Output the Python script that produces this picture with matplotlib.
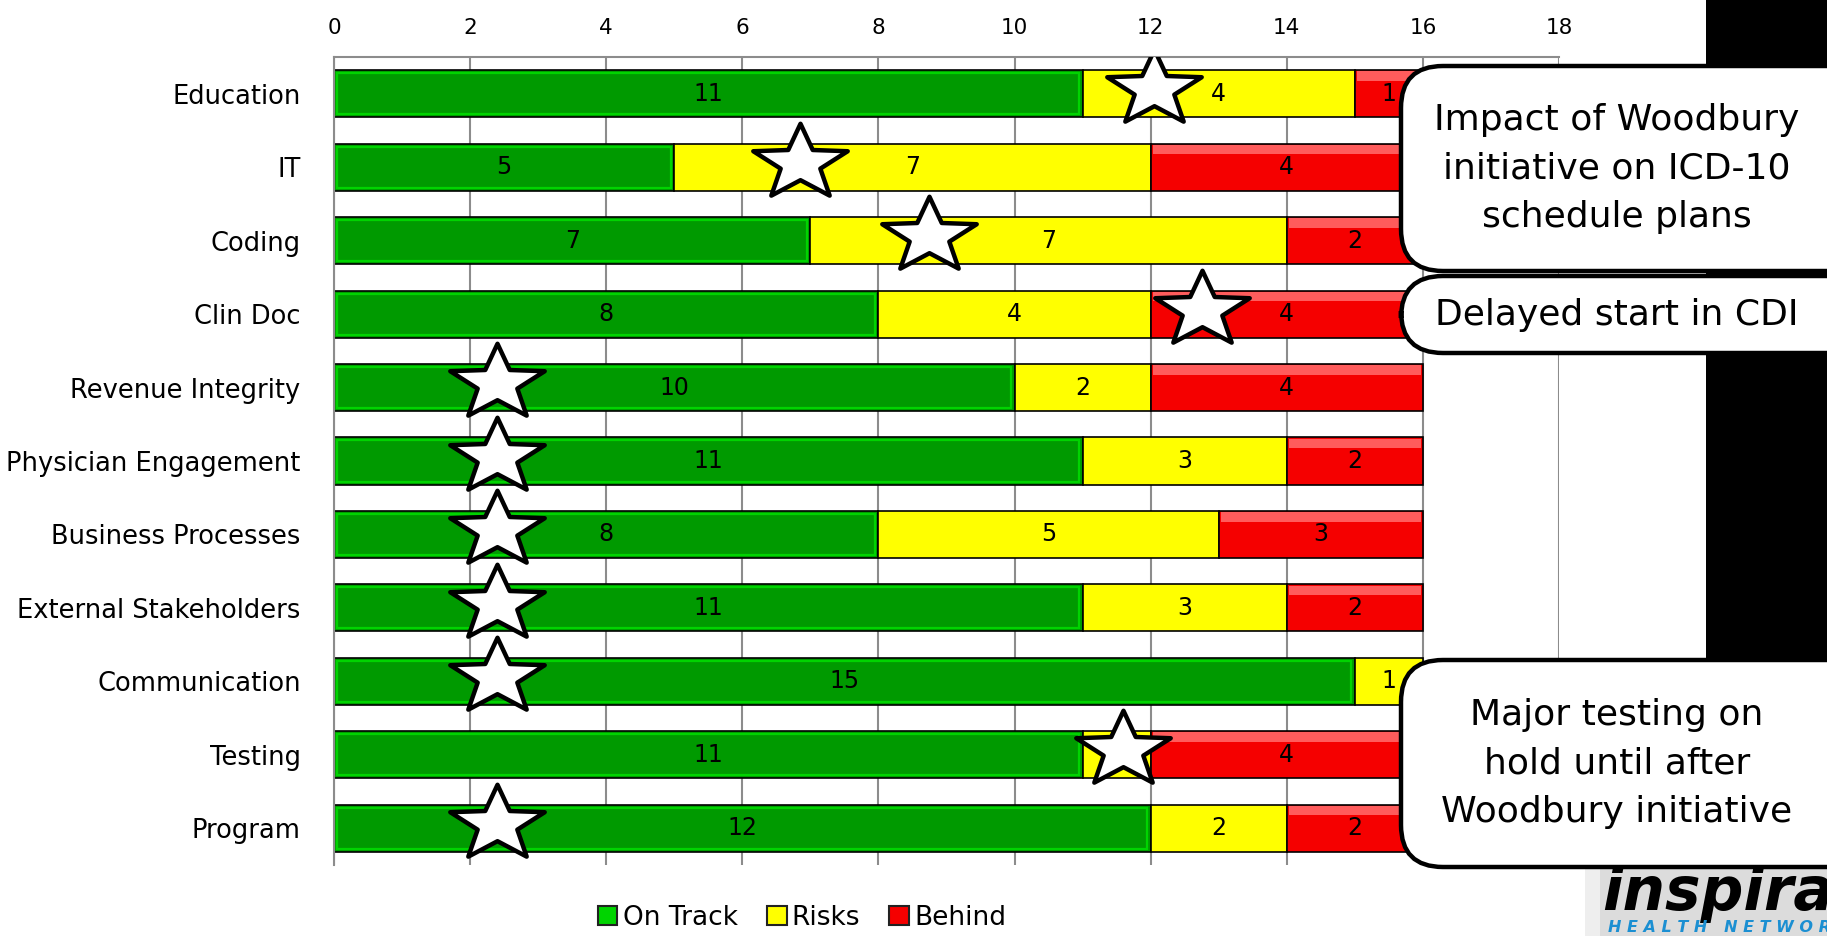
import numpy as np
import matplotlib.pyplot as plt
from matplotlib.patches import FancyBboxPatch, Rectangle, Patch
from matplotlib.path import Path
from matplotlib.transforms import IdentityTransform

categories = ['Education', 'IT', 'Coding', 'Clin Doc', 'Revenue Integrity',
              'Physician Engagement', 'Business Processes', 'External Stakeholders',
              'Communication', 'Testing', 'Program']
on_track = [11, 5, 7, 8, 10, 11, 8, 11, 15, 11, 12]
risks = [4, 7, 7, 4, 2, 3, 5, 3, 1, 1, 2]
behind = [1, 4, 2, 4, 4, 2, 3, 2, 0, 4, 2]
star_x = [12.05, 6.85, 8.75, 12.75, 2.4, 2.4, 2.4, 2.4, 2.4, 11.6, 2.4]
series_names = ['On Track', 'Risks', 'Behind']
callouts = ['Impact of Woodbury\ninitiative on ICD-10\nschedule plans',
            'Delayed start in CDI',
            'Major testing on\nhold until after\nWoodbury initiative']

W, H = 1827, 936
GREEN, GREEN_LT = '#009a00', '#00d400'
YELLOW = '#ffff00'
RED, RED_LT = '#f50000', '#ff5c5c'
GRID = '#8c8c8c'

fig = plt.figure(figsize=(W / 100, H / 100), dpi=100)
fig.patch.set_facecolor('white')

# black strip at right edge of the slide
fig.add_artist(Rectangle((1706, 170), 130, 800, transform=IdentityTransform(),
                         facecolor='black', edgecolor='none', zorder=0))

ax = fig.add_axes([334 / W, 1 - 865 / H, (1559 - 334) / W, (865 - 57) / H])
y = np.arange(len(categories))
h = 0.64
on = np.array(on_track)
rk = np.array(risks)
bh = np.array(behind)

ax.barh(y, on, height=h, color=GREEN, edgecolor='black', linewidth=1.2, zorder=2)
ax.barh(y, on - 0.1, left=0.05, height=h - 0.08, color='none',
        edgecolor=GREEN_LT, linewidth=1.6, zorder=2)
ax.barh(y, rk, left=on, height=h, color=YELLOW, edgecolor='black', linewidth=1.2, zorder=2)
red_mask = bh > 0
ax.barh(y[red_mask], bh[red_mask], left=(on + rk)[red_mask], height=h, color=RED,
        edgecolor='black', linewidth=1.2, zorder=2)
ax.barh(y[red_mask] - h / 2 + 0.08, bh[red_mask] - 0.06, left=(on + rk)[red_mask] + 0.03,
        height=0.13, color=RED_LT, edgecolor='none', zorder=2)

for i in range(len(categories)):
    lefts = [0, on[i], on[i] + rk[i]]
    for left, val in zip(lefts, [on[i], rk[i], bh[i]]):
        if val > 0:
            ax.text(left + val / 2, y[i], str(val), ha='center', va='center',
                    fontsize=17, color='black', zorder=3)

# stars, stretched sideways like the slide
ang = np.pi / 2 + np.arange(10) * np.pi / 5
rad = np.where(np.arange(10) % 2 == 0, 1.0, 0.42)
verts = np.column_stack([1.25 * rad * np.cos(ang), rad * np.sin(ang)])
verts = np.vstack([verts, verts[:1]])
star = Path(verts, closed=True)
ax.plot(star_x, y - 0.06, linestyle='none', marker=star, markersize=68,
        markerfacecolor='white', markeredgecolor='black', markeredgewidth=3.2, zorder=4)

ax.set_xlim(0, 18)
ax.set_ylim(len(categories) - 0.5, -0.5)
ax.set_xticks(np.arange(0, 19, 2))
ax.xaxis.tick_top()
ax.tick_params(axis='x', length=0, pad=14, labelsize=15.5)
ax.set_yticks(y)
ax.set_yticklabels(categories, fontsize=18.5)
ax.tick_params(axis='y', length=0, pad=24)
ax.grid(axis='x', color=GRID, linewidth=1.5)
ax.set_axisbelow(True)
for s in ['right', 'bottom']:
    ax.spines[s].set_visible(False)
for s in ['top', 'left']:
    ax.spines[s].set_color(GRID)
    ax.spines[s].set_linewidth(1.5)

# legend
handles = [Patch(facecolor=GREEN_LT, edgecolor='#222222', linewidth=1.5),
           Patch(facecolor=YELLOW, edgecolor='#222222', linewidth=1.5),
           Patch(facecolor=RED, edgecolor='#222222', linewidth=1.5)]
fig.legend(handles, series_names, loc='center', bbox_to_anchor=(802 / W, 18 / H),
           ncol=3, frameon=False, fontsize=19, handlelength=0.75, handleheight=0.75,
           handletextpad=0.2, columnspacing=1.1)

# logo
fig.add_artist(Rectangle((1600, -5), 240, 73, transform=IdentityTransform(),
                         facecolor='#dcdcdc', edgecolor='none', zorder=1))
fig.add_artist(Rectangle((1585, -5), 15, 73, transform=IdentityTransform(),
                         facecolor='#eeeeee', edgecolor='none', zorder=1))
fig.text(1602 / W, 26 / H, 'inspira', fontsize=43, fontweight='bold', style='italic',
         ha='left', va='baseline', color='black', zorder=2)
fig.text(1608 / W, 4 / H, 'H E A L T H   N E T W O R K', fontsize=11.5, fontweight='bold',
         style='italic', ha='left', va='baseline', color='#1b8fd2', zorder=2)

# callout boxes (pixel coords from the bottom)
boxes = [(1401, 665, 205), (1401, 583, 77), (1401, 69, 207)]
for (bx, by, bhgt), txt in zip(boxes, callouts):
    fig.add_artist(FancyBboxPatch((bx, by), 520, bhgt, transform=IdentityTransform(),
                                  boxstyle='round,pad=0,rounding_size=42',
                                  facecolor='white', edgecolor='black', linewidth=3.2,
                                  zorder=5))
    fig.text(1617 / W, (by + bhgt / 2) / H, txt, ha='center', va='center',
             fontsize=26, linespacing=1.55, zorder=6)

fig.savefig('out.png', dpi=100)
